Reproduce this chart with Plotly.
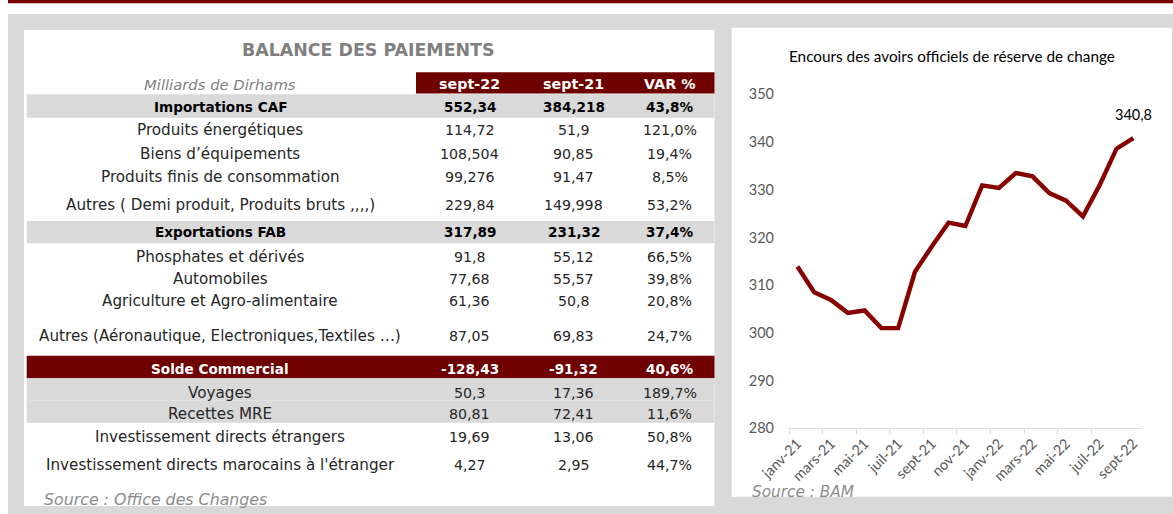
import plotly.graph_objects as go

W, H = 1173, 514

# ---------------- data: table ----------------
table_title = "BALANCE DES PAIEMENTS"
unit_label = "Milliards de Dirhams"
col_headers = ["sept-22", "sept-21", "VAR %"]
row_labels = [
    "Importations CAF",
    "Produits énergétiques",
    "Biens d’équipements",
    "Produits finis de consommation",
    "Autres ( Demi produit, Produits bruts ,,,,)",
    "Exportations FAB",
    "Phosphates et dérivés",
    "Automobiles",
    "Agriculture et Agro-alimentaire",
    "Autres (Aéronautique, Electroniques,Textiles …)",
    "Solde Commercial",
    "Voyages",
    "Recettes MRE",
    "Investissement directs étrangers",
    "Investissement directs marocains à l'étranger",
]
sept22 = [552.34, 114.72, 108.504, 99.276, 229.84, 317.89, 91.8, 77.68, 61.36, 87.05,
          -128.43, 50.3, 80.81, 19.69, 4.27]
sept21 = [384.218, 51.9, 90.85, 91.47, 149.998, 231.32, 55.12, 55.57, 50.8, 69.83,
          -91.32, 17.36, 72.41, 13.06, 2.95]
var_pct = [43.8, 121.0, 19.4, 8.5, 53.2, 37.4, 66.5, 39.8, 20.8, 24.7,
           40.6, 189.7, 11.6, 50.8, 44.7]
table_source = "Source : Office des Changes"

# ---------------- data: line chart ----------------
chart_title = "Encours des avoirs officiels de réserve de change"
months = ["janv-21", "févr-21", "mars-21", "avr-21", "mai-21", "juin-21", "juil-21",
          "août-21", "sept-21", "oct-21", "nov-21", "déc-21", "janv-22", "févr-22",
          "mars-22", "avr-22", "mai-22", "juin-22", "juil-22", "août-22", "sept-22"]
reserves = [313.9, 308.5, 306.9, 304.2, 304.7, 301.0, 301.0, 312.8, 318.1, 323.1, 322.4,
            330.9, 330.4, 333.5, 332.8, 329.3, 327.7, 324.4, 331.0, 338.6, 340.8]
y_ticks = [280, 290, 300, 310, 320, 330, 340, 350]
chart_source = "Source : BAM"

# ---------------- styles / layout ----------------
DARK_RED = "#6f0000"
LINE_RED = "#870000"
GREY = "#d9d9d9"
TXT = "#262626"
TFONT = "DejaVu Sans"
CFONT = "Lato"

row_kind = ["sub", "n", "n", "n", "n", "sub", "n", "n", "n", "n",
            "total", "shade", "shade", "n", "n"]
row_edges = [94.3, 117.7, 141, 165, 188, 221, 243.3, 267, 290, 312, 355.7,
             378.3, 400.5, 422.7, 451, 480]
text_y = [106.5, 130, 153.5, 176.5, 205, 232.5, 256.5, 279, 301, 336, 368.5,
          392.5, 413.5, 437, 465]
col_x = [220, 469.5, 573.5, 669.5]


def X(px):
    return px / W


def Y(py):
    return 1 - py / H


def fr(v, dec=None):
    s = f"{v:.{dec}f}" if dec is not None else repr(v)
    return s.replace(".", ",")


shapes = []


def rect(x0, y0, x1, y1, color):
    shapes.append(dict(type="rect", xref="paper", yref="paper",
                       x0=X(x0), x1=X(x1), y0=Y(y1), y1=Y(y0),
                       fillcolor=color, line=dict(width=0), layer="below"))


rect(8, 0, W, 3.2, "#7a0000")
rect(8, 14, W, H, GREY)
rect(24, 30, 714.5, 506, "white")
rect(731.7, 27.7, 1172, 496.7, "white")
rect(416, 72.3, 714.5, 93.5, DARK_RED)
for i, k in enumerate(row_kind):
    if k in ("sub", "shade"):
        rect(26.7, row_edges[i], 714.5, row_edges[i + 1], GREY)
    elif k == "total":
        rect(26.7, row_edges[i], 714.5, row_edges[i + 1], DARK_RED)

ann = []


def text(px, py, s, size=13.5, color=TXT, bold=False, italic=False, family=TFONT,
         xanchor="center"):
    ann.append(dict(xref="paper", yref="paper", x=X(px), y=Y(py), text=s,
                    showarrow=False, xanchor=xanchor, yanchor="middle",
                    font=dict(family=family, size=size, color=color,
                              weight="bold" if bold else "normal",
                              style="italic" if italic else "normal")))


text(369, 50, table_title, size=17.4, color="#7f7f7f", bold=True)
text(col_x[0], 85, unit_label, size=14.8, color="#7f7f7f", italic=True)
for j, h in enumerate(col_headers):
    text(col_x[j + 1], 84.5, h, size=14.3, color="white", bold=True)

for i, lab in enumerate(row_labels):
    k = row_kind[i]
    bold = k in ("sub", "total")
    color = "white" if k == "total" else ("black" if k == "sub" else TXT)
    vals = [fr(sept22[i]), fr(sept21[i]), fr(var_pct[i], 1) + "%"]
    text(col_x[0], text_y[i], lab, bold=bold, color=color,
         size=13.6 if bold else 15.2)
    for j, v in enumerate(vals):
        text(col_x[j + 1], text_y[i], v, bold=bold, color=color,
             size=13.6 if bold else 14.2)

text(42, 499, table_source, size=15.8, color="#8c8c8c", italic=True, xanchor="left")

# chart texts
text(952.3, 56, chart_title, size=15.3, color="black", family=CFONT)
text(750, 492, chart_source, size=15.3, color="#8c8c8c", italic=True, family=TFONT,
     xanchor="left")
ann.append(dict(xref="x", yref="y", x=len(reserves) - 1, y=reserves[-1],
                text=fr(reserves[-1]), showarrow=False, yshift=24,
                xanchor="center", yanchor="middle",
                font=dict(family=CFONT, size=14.5, color="black")))

fig = go.Figure()
fig.add_trace(go.Scatter(x=list(range(len(months))), y=reserves, mode="lines",
                         line=dict(color=LINE_RED, width=4.4), hoverinfo="skip",
                         showlegend=False))

fig.update_layout(
    width=W, height=H,
    margin=dict(l=0, r=0, t=0, b=0),
    paper_bgcolor="white", plot_bgcolor="rgba(0,0,0,0)",
    shapes=shapes, annotations=ann, showlegend=False,
    xaxis=dict(domain=[X(789), X(1141.7)], range=[-0.5, len(months) - 0.5],
               tickmode="array", tickvals=list(range(0, len(months), 2)),
               ticktext=months[::2], tickangle=-45, ticks="",
               showline=True, linecolor=GREY, linewidth=1.3,
               showgrid=False, zeroline=False, automargin=False,
               tickfont=dict(family=CFONT, size=14.5, color="#595959"),
               minor=dict(tickmode="array",
                          tickvals=[i - 0.5 for i in range(0, len(months) - 1, 2)],
                          ticks="outside", ticklen=5, tickcolor=GREY,
                          tickwidth=1.3, showgrid=False)),
    yaxis=dict(domain=[Y(428.3), Y(94.3)], range=[y_ticks[0], y_ticks[-1]],
               tickmode="array", tickvals=y_ticks, ticks="",
               showline=False, showgrid=False, zeroline=False, automargin=False,
               ticklabelstandoff=14,
               tickfont=dict(family=CFONT, size=14.5, color="#595959")),
)

fig.write_html("out.html", config={"displayModeBar": False},
               post_script="document.body.style.margin='0';"
                           "document.body.style.overflow='hidden';")
